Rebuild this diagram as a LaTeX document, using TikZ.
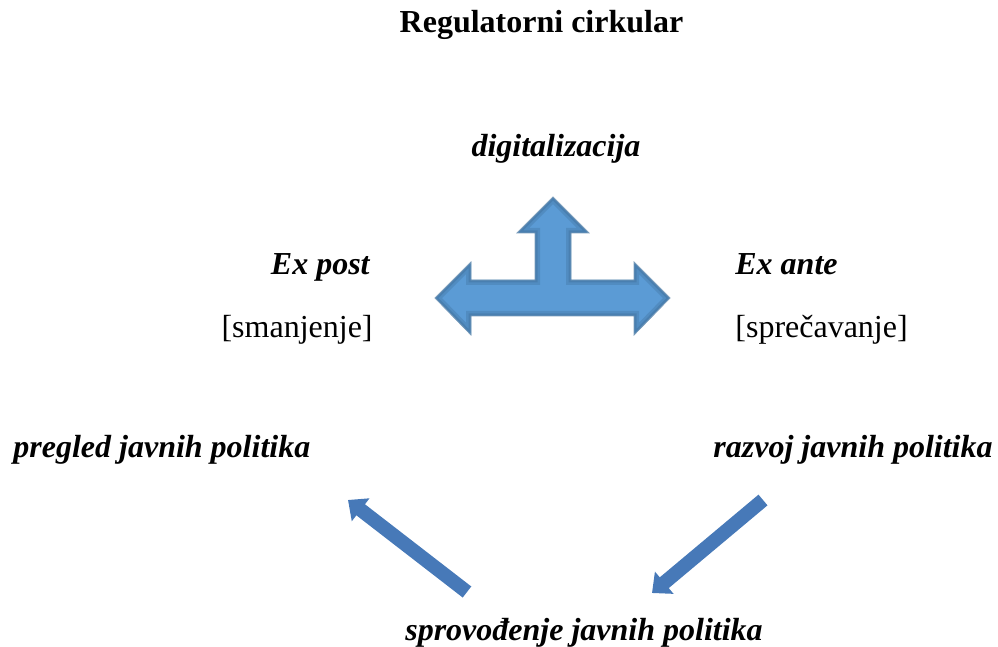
\documentclass[tikz,border=0pt]{standalone}
\usepackage{fontspec}
\setmainfont{Liberation Serif}
\usetikzlibrary{positioning, arrows.meta}

\definecolor{tblue}{HTML}{5B9BD5}
\definecolor{tedge}{HTML}{41719C}
\definecolor{dblue}{HTML}{4779B8}

\newcommand{\tarrowpath}{(435,298) -- (471,262) -- (471,280) -- (535,280)
  -- (535,233) -- (517,233) -- (553,197) -- (589,233) -- (571,233)
  -- (571,280) -- (634,280) -- (634,262) -- (670,298) -- (634,335)
  -- (634,316) -- (471,316) -- (471,335) -- cycle}

\begin{document}
\begin{tikzpicture}[x=0.5pt, y=-0.5pt, node distance=31pt, on grid,
    lbl/.style={inner sep=0pt, font=\fontsize{16}{19}\selectfont},
    head/.style={lbl, font=\fontsize{16}{19}\selectfont\bfseries},
    term/.style={lbl, font=\fontsize{16}{19}\selectfont\bfseries\itshape},
    fat/.style={draw=dblue, line width=7pt,
      -{Triangle[width=14pt, length=8pt]}}]
  \useasboundingbox (0,0) rectangle (998,647);

  \node[head, anchor=base] (title) at (541.5,33) {Regulatorni cirkular};
  \node[term, anchor=base] (digi) at (556,157) {digitalizacija};
  \node[term, anchor=base east] (expost) at (370,275) {Ex post};
  \node[lbl] (smanj) [below=of expost.base east, anchor=base east, xshift=1.5pt] {[smanjenje]};
  \node[term, anchor=base west] (exante) at (735,275) {Ex ante};
  \node[lbl] (sprec) [below=of exante.base west, anchor=base west] {[sprečavanje]};
  \node[term, anchor=base west] (preg) at (13,458) {pregled javnih politika};
  \node[term, anchor=base east] (razv) at (993,458) {razvoj javnih politika};
  \node[term, anchor=base] (sprov) at (584,640) {sprovođenje javnih politika};

  % T arrow
  \fill[tblue] \tarrowpath;
  \begin{scope}
    \clip \tarrowpath;
    \draw[tedge, line width=5pt, opacity=.35] \tarrowpath;
    \draw[tedge, line width=2.5pt, opacity=.45] \tarrowpath;
  \end{scope}
  \draw[tedge!70, line width=0.4pt] \tarrowpath;

  % diagonal arrows
  \coordinate (l0) at (467,592);
  \coordinate (l1) at (348,500);
  \coordinate (r0) at (763,500);
  \coordinate (r1) at (652,593);
  \draw[fat] (l0) -- (l1);
  \draw[fat] (r0) -- (r1);
\end{tikzpicture}
\end{document}
